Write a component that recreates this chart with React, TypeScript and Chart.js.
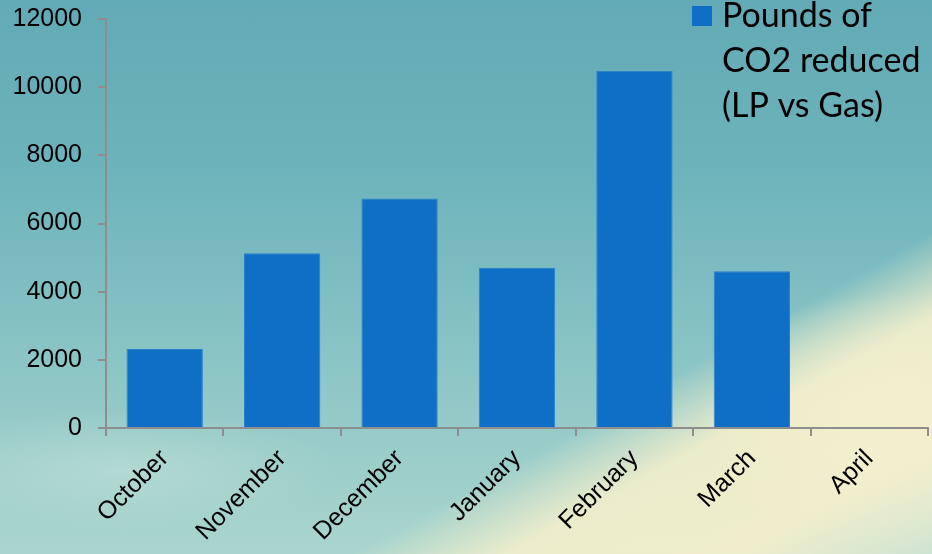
import { useEffect, useRef } from "react";
import { Chart, registerables } from "chart.js";

Chart.register(...registerables);

const categories = ["October", "November", "December", "January", "February", "March", "April"];
const co2Reduced: (number | null)[] = [2320, 5130, 6730, 4700, 10480, 4600, null];
const seriesLabel = "Pounds of CO2 reduced (LP vs Gas)";
const yMin = 0;
const yMax = 12000;
const yStep = 2000;

const barColor = "#0f6ec6";
const axisColor = "#8e8e8e";

const sideLegend = {
  id: "sideLegend",
  afterDraw(chart: any) {
    const ctx = chart.ctx as CanvasRenderingContext2D;
    const ds = chart.data.datasets[0];
    ctx.save();
    ctx.fillStyle = ds.backgroundColor;
    ctx.fillRect(692, 6, 20, 20);
    ctx.font = "34px Lato";
    ctx.fillStyle = "#000";
    ctx.textBaseline = "alphabetic";
    ctx.textAlign = "left";
    const words = String(ds.label).split(" ");
    const lines: string[] = [];
    let cur = "";
    for (const w of words) {
      const test = cur ? cur + " " + w : w;
      if (cur && ctx.measureText(test).width > 205) {
        lines.push(cur);
        cur = w;
      } else cur = test;
    }
    if (cur) lines.push(cur);
    lines.forEach((l, i) => ctx.fillText(l, 722, 27 + i * 45));
    ctx.restore();
  },
};

export default function App() {
  const ref = useRef<HTMLCanvasElement | null>(null);

  useEffect(() => {
    document.body.style.margin = "0";
    if (!ref.current) return;
    const chart = new Chart(ref.current, {
      type: "bar",
      data: {
        labels: categories,
        datasets: [
          {
            label: seriesLabel,
            data: co2Reduced,
            backgroundColor: barColor,
            borderColor: "#2a80cf",
            borderWidth: 1,
            barPercentage: 0.65,
            categoryPercentage: 1,
          },
        ],
      },
      options: {
        animation: false,
        responsive: true,
        maintainAspectRatio: false,
        layout: { padding: { top: 19, right: 4, left: 0, bottom: 0 } },
        plugins: { legend: { display: false }, tooltip: { enabled: false } },
        scales: {
          x: {
            afterFit: (s: any) => {
              s.height = 126;
            },
            grid: {
              offset: true,
              drawOnChartArea: false,
              tickLength: 8,
              color: axisColor,
              lineWidth: 2,
            },
            border: { color: axisColor, width: 2 },
            ticks: {
              autoSkip: false,
              minRotation: 45,
              maxRotation: 45,
              padding: 8,
              color: "#000",
              font: { family: "'Liberation Sans', Arial, sans-serif", size: 25 },
            },
          },
          y: {
            min: yMin,
            max: yMax,
            afterFit: (s: any) => {
              s.width = 106;
              s.paddingTop = 0;
              s.paddingBottom = 0;
            },
            grid: {
              drawOnChartArea: false,
              tickLength: 8,
              color: axisColor,
              lineWidth: 2,
            },
            border: { color: axisColor, width: 2 },
            ticks: {
              stepSize: yStep,
              padding: 16,
              color: "#000",
              callback: (v: any) => String(v),
              font: { family: "'Liberation Sans', Arial, sans-serif", size: 25 },
            },
          },
        },
      },
      plugins: [sideLegend],
    });
    return () => chart.destroy();
  }, []);

  return (
    <div
      style={{
        position: "fixed",
        left: 0,
        top: 0,
        width: 932,
        height: 554,
        background:
          "radial-gradient(ellipse 220px 60px at 120px 470px, rgba(200,228,218,0.5), rgba(200,228,218,0) 100%)," +
          "radial-gradient(ellipse 200px 130px at 900px 420px, rgba(244,240,205,0.9), rgba(244,240,205,0) 100%)," +
          "linear-gradient(151deg, rgba(243,239,203,0) 70%, rgba(243,239,203,0.9) 78%, rgba(243,239,203,0.95) 90%, rgba(215,232,212,0.8) 100%)," +
          "linear-gradient(180deg, #62aab5 0%, #6db3bb 30%, #7dbdc1 50%, #92c8c7 72%, #aad5ce 100%)",
      }}
    >
      <canvas ref={ref} width={932} height={554} />
    </div>
  );
}
